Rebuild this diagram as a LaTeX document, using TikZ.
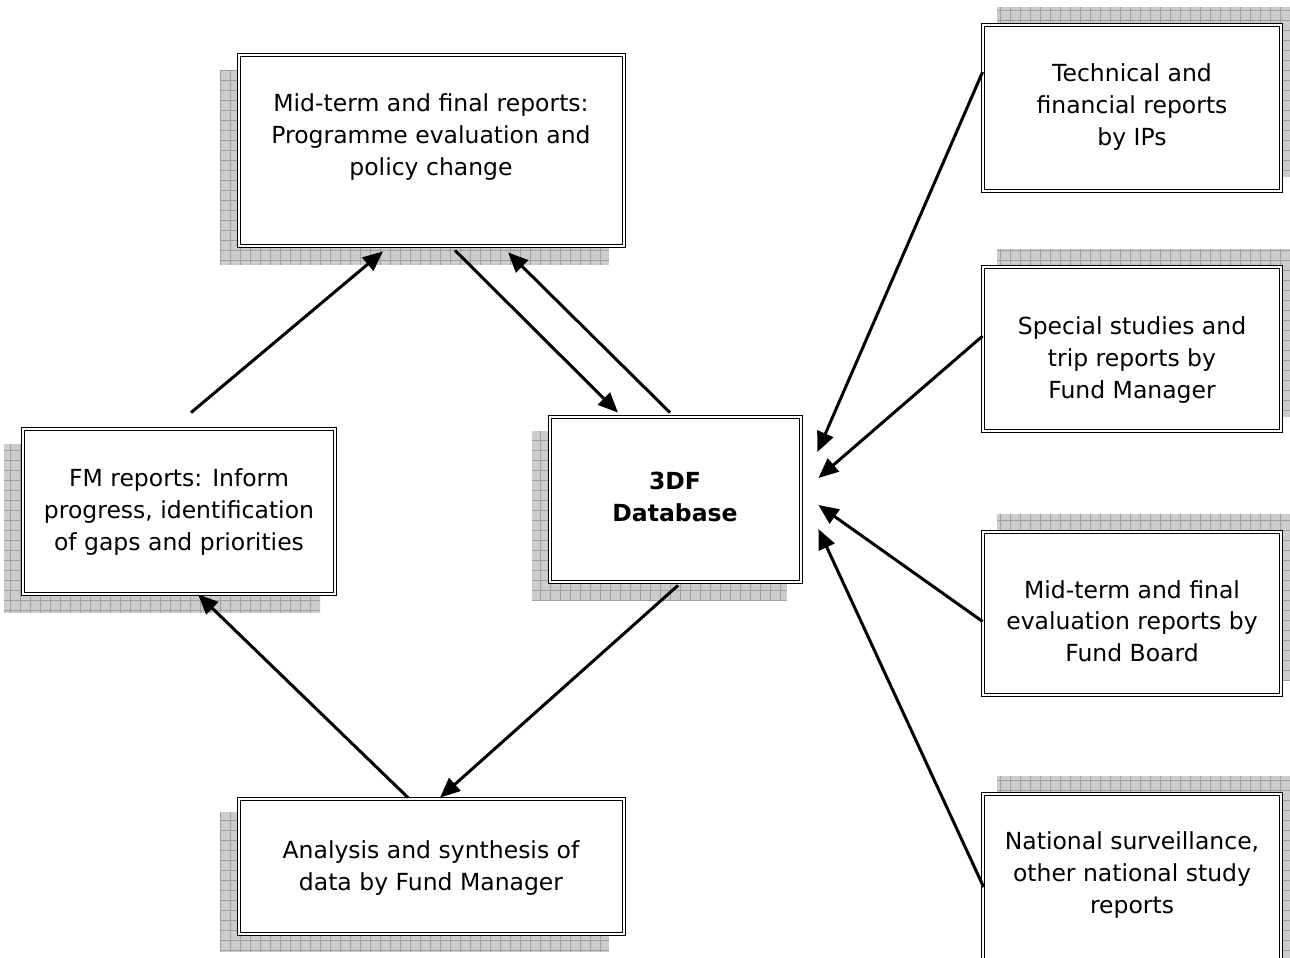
\documentclass[tikz,border=0pt]{standalone}
\usepackage{fontspec}
\setmainfont{DejaVu Sans}
\usetikzlibrary{arrows.meta,calc}
\tikzset{
  box/.style={draw, line width=1.2pt, double, double distance=2pt, fill=white, inner sep=0pt},
  txt/.style={align=center, font=\fontsize{23.5}{31.7}\selectfont, inner sep=0pt},
  arr/.style={line width=3pt, -{Triangle[length=20pt,width=17pt]}},
  shadowfill/.style={fill=gray!40},
  gridline/.style={draw=gray!75, line width=0.6pt},
}
\newcommand\shadowrect[4]{%
  \begin{scope}
    \clip (#1,#2) rectangle (#3,#4);
    \fill[shadowfill] (#1,#2) rectangle (#3,#4);
    \draw[gridline, step=10pt] (#1,#2) grid (#3,#4);
  \end{scope}}
\begin{document}
\begin{tikzpicture}[x=1pt,y=-1pt]
\useasboundingbox (0,0) rectangle (1290,958);
\clip (0,0) rectangle (1290,958);
% shadows
\shadowrect{220}{70}{609}{265}
\shadowrect{532}{431}{787}{601}
\shadowrect{4}{444}{320}{613}
\shadowrect{220}{812}{609}{952}
\shadowrect{997}{7}{1299}{177}
\shadowrect{997}{249}{1299}{417}
\shadowrect{997}{514}{1299}{681}
\shadowrect{997}{776}{1299}{990}
% boxes
\node[box, minimum width=384.6pt, minimum height=190.6pt] (top) at (431.5,150.5) {};
\node[box, minimum width=250.6pt, minimum height=164.6pt] (db) at (675.5,499.5) {};
\node[box, minimum width=311.6pt, minimum height=164.6pt] (fm) at (179,511.5) {};
\node[box, minimum width=384.6pt, minimum height=134.6pt] (ana) at (431.5,866.5) {};
\node[box, minimum width=297.6pt, minimum height=165.6pt] (tech) at (1132,108) {};
\node[box, minimum width=297.6pt, minimum height=163.6pt] (spec) at (1132,349) {};
\node[box, minimum width=297.6pt, minimum height=162.6pt] (eval) at (1132,613.5) {};
\node[box, minimum width=297.6pt, minimum height=180pt] (nat) at (1132,884) {};
% texts
\node[txt] (topT) at (431,137) {Mid-term and final reports:\\Programme evaluation and\\policy change};
\node[txt] (techT) at (1132,107) {Technical and\\financial reports\\by IPs};
\node[txt] (specT) at (1132,360) {Special studies and\\trip reports by\\Fund Manager};
\node[txt] (evalT) at (1132,621) {Mid-term and final\\evaluation reports by\\Fund Board};
\node[txt] (natT) at (1132,875) {National surveillance,\\other national study\\reports};
\node[txt] (fmT) at (179,512) {FM reports: Inform\\progress, identification\\of gaps and priorities};
\node[txt, font=\fontsize{23.5}{31.7}\selectfont\bfseries] (dbT) at (675,497) {3DF\\Database};
\node[txt] (anaT) at (431,868) {Analysis and synthesis of\\data by Fund Manager};
% connectors
\draw[arr] ($(fm.north)+(12,-16)$) -- ($(top.south)+(-48.5,5)$);
\draw[arr] ($(top.south)+(23.5,4)$) -- ($(db.north)+(-57.5,-4)$);
\draw[arr] ($(db.north)+(-5.5,-4)$) -- ($(top.south)+(76.5,6)$);
\draw[arr] ($(db.south)+(2.5,3)$) -- ($(ana.north)+(8.5,-1)$);
\draw[arr] ($(ana.north)+(-23.5,-1)$) -- ($(fm.south)+(19,0)$);
\draw[arr] ($(tech.west)+(0,-36)$) -- ($(db.east)+(16,-47.5)$);
\draw[arr] ($(spec.west)+(0,-13)$) -- ($(db.east)+(17,-21.5)$);
\draw[arr] ($(eval.west)+(0,8)$) -- ($(db.east)+(17,5.5)$);
\draw[arr] ($(nat.west)+(1,3)$) -- ($(db.east)+(17,29.5)$);
\end{tikzpicture}
\end{document}
